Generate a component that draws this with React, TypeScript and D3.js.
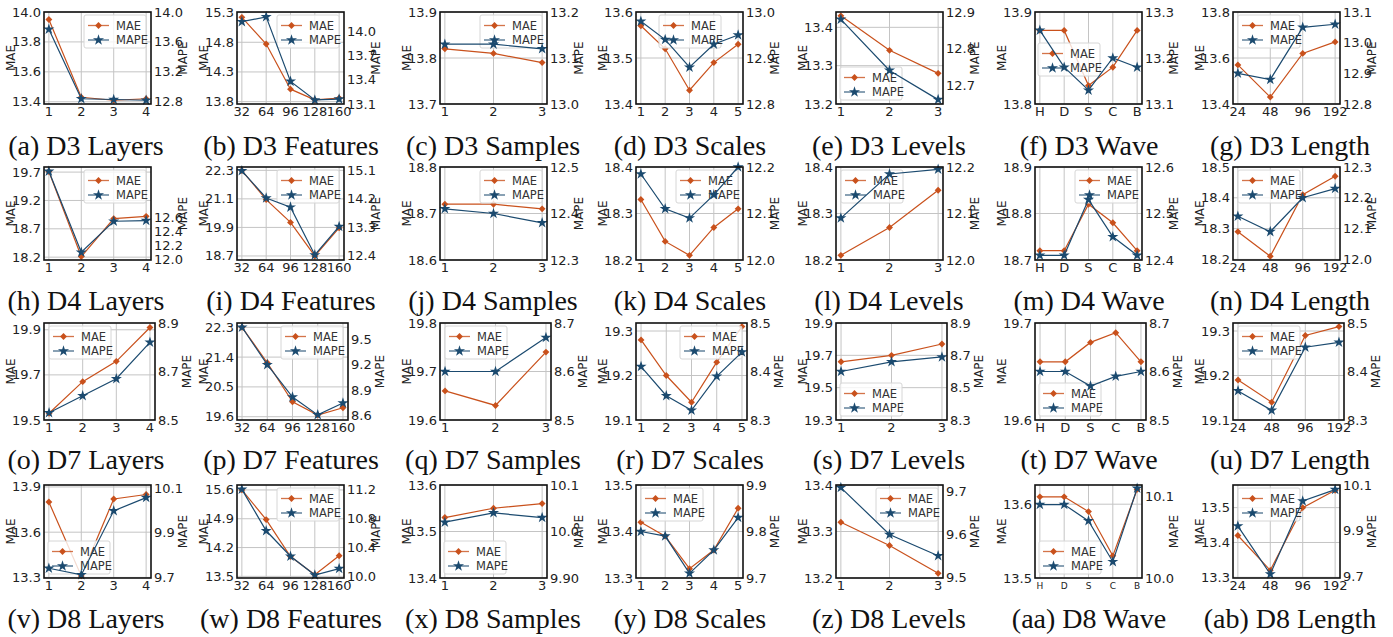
import React from 'react';
import * as d3 from 'd3';

const W = 1393;
const H = 637;
const MAE_COLOR = '#c9511c';
const MAPE_COLOR = '#1b4a6f';

const datasets = ['D3', 'D4', 'D7', 'D8'];
const experiments = ['Layers', 'Features', 'Samples', 'Scales', 'Levels', 'Wave', 'Length'];
const letters = 'abcdefghijklmnopqrstuvwxyz'.split('').concat(['aa', 'ab']);

// x categories per experiment
const xLayers = ['1', '2', '3', '4'];
const xFeatures = ['32', '64', '96', '128', '160'];
const xSamples = ['1', '2', '3'];
const xScales = ['1', '2', '3', '4', '5'];
const xLevels = ['1', '2', '3'];
const xWave = ['H', 'D', 'S', 'C', 'B'];
const xLength = ['24', '48', '96', '192'];
const xCategories = [xLayers, xFeatures, xSamples, xScales, xLevels, xWave, xLength];

// D3
const d3Mae = [
  [13.95, 13.43, 13.41, 13.42],
  [15.22, 14.77, 14.01, 13.83, 13.86],
  [13.82, 13.81, 13.79],
  [13.57, 13.52, 13.43, 13.49, 13.53],
  [13.43, 13.34, 13.28],
  [13.88, 13.88, 13.82, 13.84, 13.88],
  [13.57, 13.43, 13.62, 13.67],
];
const d3Mape = [
  [13.77, 12.84, 12.83, 12.82],
  [14.12, 14.18, 13.38, 13.15, 13.16],
  [13.13, 13.13, 13.12],
  [12.98, 12.94, 12.88, 12.93, 12.95],
  [12.88, 12.74, 12.66],
  [13.26, 13.18, 13.13, 13.2, 13.18],
  [12.9, 12.88, 13.05, 13.06],
];
const d3MaeDomain = [[13.385, 14.0], [13.76, 15.31], [13.7, 13.9], [13.4, 13.6], [13.2, 13.44], [13.8, 13.9], [13.4, 13.8]];
const d3MaeTicks = [[13.4, 13.6, 13.8, 14.0], [13.8, 14.3, 14.8, 15.3], [13.7, 13.8, 13.9], [13.4, 13.5, 13.6], [13.2, 13.3, 13.4], [13.8, 13.9], [13.4, 13.6, 13.8]];
const d3MapeDomain = [[12.77, 14.0], [13.1, 14.24], [13.0, 13.2], [12.8, 13.0], [12.648, 12.9], [13.1, 13.3], [12.8, 13.1]];
const d3MapeTicks = [[12.8, 13.2, 13.6, 14.0], [13.1, 13.4, 13.7, 14.0], [13.0, 13.1, 13.2], [12.8, 12.9, 13.0], [12.7, 12.8, 12.9], [13.1, 13.2, 13.3], [12.8, 12.9, 13.0, 13.1]];
const d3Legend = ['ur', 'ur', 'ur', 'uc', 'll', 'cl', 'ul'];

// D4
const d4Mae = [
  [19.71, 18.21, 18.88, 18.92],
  [22.29, 21.07, 20.11, 18.7, 19.88],
  [18.72, 18.72, 18.71],
  [18.33, 18.24, 18.21, 18.27, 18.31],
  [18.21, 18.27, 18.35],
  [18.72, 18.72, 18.82, 18.78, 18.72],
  [18.29, 18.21, 18.41, 18.47],
];
const d4Mape = [
  [13.25, 12.1, 12.54, 12.55],
  [15.09, 14.23, 13.94, 12.43, 13.33],
  [12.41, 12.4, 12.38],
  [12.185, 12.11, 12.09, 12.14, 12.2],
  [12.09, 12.185, 12.195],
  [12.41, 12.41, 12.53, 12.45, 12.41],
  [12.14, 12.09, 12.2, 12.23],
];
const d4MaeDomain = [[18.15, 19.79], [18.53, 22.44], [18.6, 18.8], [18.2, 18.4], [18.2, 18.4], [18.7, 18.9], [18.198, 18.5]];
const d4MaeTicks = [[18.2, 18.7, 19.2, 19.7], [18.7, 19.9, 21.1, 22.3], [18.6, 18.7, 18.8], [18.2, 18.3, 18.4], [18.2, 18.3, 18.4], [18.7, 18.8, 18.9], [18.2, 18.3, 18.4, 18.5]];
const d4MapeDomain = [[11.99, 13.31], [12.27, 15.21], [12.3, 12.5], [12.0, 12.2], [12.0, 12.2], [12.4, 12.6], [11.998, 12.3]];
const d4MapeTicks = [[12.0, 12.2, 12.4, 12.6], [12.4, 13.3, 14.2, 15.1], [12.3, 12.4, 12.5], [12.0, 12.1, 12.2], [12.0, 12.1, 12.2], [12.4, 12.5, 12.6], [12.0, 12.1, 12.2, 12.3]];
const d4Legend = ['ur', 'ur', 'ur', 'ur', 'ul', 'ur', 'ul'];

// D7
const d7Mae = [
  [19.53, 19.67, 19.76, 19.91],
  [22.3, 21.23, 20.05, 19.65, 19.87],
  [19.66, 19.63, 19.74],
  [19.28, 19.2, 19.14, 19.23, 19.31],
  [19.66, 19.7, 19.77],
  [19.66, 19.66, 19.68, 19.69, 19.66],
  [19.19, 19.14, 19.29, 19.31],
];
const d7Mape = [
  [8.53, 8.6, 8.67, 8.82],
  [9.64, 9.2, 8.82, 8.61, 8.75],
  [8.6, 8.6, 8.67],
  [8.41, 8.35, 8.32, 8.39, 8.44],
  [8.6, 8.66, 8.69],
  [8.6, 8.6, 8.57, 8.59, 8.6],
  [8.36, 8.32, 8.45, 8.46],
];
const d7MaeDomain = [[19.5, 19.93], [19.5, 22.43], [19.6, 19.8], [19.1, 19.318], [19.3, 19.9], [19.6, 19.7], [19.1, 19.318]];
const d7MaeTicks = [[19.5, 19.7, 19.9], [19.6, 20.5, 21.4, 22.3], [19.6, 19.7, 19.8], [19.1, 19.2, 19.3], [19.3, 19.5, 19.7, 19.9], [19.6, 19.7], [19.1, 19.2, 19.3]];
const d7MapeDomain = [[8.5, 8.9], [8.55, 9.69], [8.5, 8.7], [8.3, 8.5], [8.3, 8.9], [8.5, 8.7], [8.3, 8.5]];
const d7MapeTicks = [[8.5, 8.7, 8.9], [8.6, 8.9, 9.2, 9.5], [8.5, 8.6, 8.7], [8.3, 8.4, 8.5], [8.3, 8.5, 8.7, 8.9], [8.5, 8.6, 8.7], [8.3, 8.4, 8.5]];
const d7Legend = ['ul', 'ur', 'ul', 'ur', 'll', 'll', 'ul'];

// D8
const d8Mae = [
  [13.8, 13.31, 13.82, 13.85],
  [15.6, 14.88, 13.98, 13.54, 14.0],
  [13.53, 13.55, 13.56],
  [13.42, 13.39, 13.32, 13.36, 13.45],
  [13.32, 13.27, 13.21],
  [13.61, 13.61, 13.59, 13.53, 13.62],
  [13.42, 13.32, 13.5, 13.55],
];
const d8Mape = [
  [9.74, 9.71, 10.0, 10.06],
  [11.2, 10.63, 10.28, 10.02, 10.11],
  [10.02, 10.04, 10.03],
  [9.8, 9.79, 9.71, 9.76, 9.83],
  [9.71, 9.6, 9.55],
  [10.09, 10.09, 10.07, 10.02, 10.11],
  [9.92, 9.71, 10.03, 10.08],
];
const d8MaeDomain = [[13.296, 13.913], [13.46, 15.72], [13.4, 13.6], [13.3, 13.5], [13.2, 13.4], [13.5, 13.626], [13.298, 13.565]];
const d8MaeTicks = [[13.3, 13.6, 13.9], [13.5, 14.2, 14.9, 15.6], [13.4, 13.5, 13.6], [13.3, 13.4, 13.5], [13.2, 13.3, 13.4], [13.5, 13.6], [13.3, 13.4, 13.5]];
const d8MapeDomain = [[9.696, 10.117], [9.98, 11.26], [9.9, 10.1], [9.7, 9.9], [9.498, 9.716], [10.0, 10.114], [9.693, 10.1]];
const d8MapeTicks = [[9.7, 9.9, 10.1], [10.0, 10.4, 10.8, 11.2], [9.9, 10.0, 10.1], [9.7, 9.8, 9.9], [9.5, 9.6, 9.7], [10.0, 10.1], [9.7, 9.9, 10.1]];
const d8Legend = ['ll', 'ur', 'll', 'ul', 'ur', 'll', 'ul'];
const d8SamplesMapeLabels = ['9.90', '10.0', '10.1'];

const maeAll = [d3Mae, d4Mae, d7Mae, d8Mae];
const mapeAll = [d3Mape, d4Mape, d7Mape, d8Mape];
const maeDomains = [d3MaeDomain, d4MaeDomain, d7MaeDomain, d8MaeDomain];
const maeTicksAll = [d3MaeTicks, d4MaeTicks, d7MaeTicks, d8MaeTicks];
const mapeDomains = [d3MapeDomain, d4MapeDomain, d7MapeDomain, d8MapeDomain];
const mapeTicksAll = [d3MapeTicks, d4MapeTicks, d7MapeTicks, d8MapeTicks];
const legendAll = [d3Legend, d4Legend, d7Legend, d8Legend];

// layout
const colLeft = [44, 237, 440, 636, 836, 1035, 1233];
const rowTop = [12, 167, 323, 485];
const rowHeight = [92, 93, 97, 93];
const rowWidth = [107, 107, 111, 107];
const captionX = [86, 291, 493, 690, 889, 1089, 1290];
const captionY = [155, 310, 469, 628];

const SANS = 'DejaVu Sans, sans-serif';
const fmt = d3.format('.1f');
const diamond = d3.symbol().type(d3.symbolDiamond2).size(30)() as string;
const star = d3.symbol().type(d3.symbolStar).size(38)() as string;

type PanelProps = {
  r: number;
  c: number;
};

function Legend({ x, y }: { x: number; y: number }) {
  const rows = [
    { name: 'MAE', color: MAE_COLOR, path: diamond, dy: 10.5 },
    { name: 'MAPE', color: MAPE_COLOR, path: star, dy: 25 },
  ];
  return (
    <g>
      <rect x={x} y={y} width={62} height={33} rx={2} fill="#fff" fillOpacity={0.8} stroke="#d6d6d6" strokeWidth={1} />
      {rows.map((row) => (
        <g key={row.name}>
          <line x1={x + 4} x2={x + 25} y1={y + row.dy} y2={y + row.dy} stroke={row.color} strokeWidth={1.3} strokeOpacity={0.8} />
          <path d={row.path} transform={`translate(${x + 14.5},${y + row.dy})`} fill={row.color} />
          <text x={x + 32} y={y + row.dy} dominantBaseline="central" fontSize={11.5} fontFamily={SANS} fill="#333">
            {row.name}
          </text>
        </g>
      ))}
    </g>
  );
}

function Panel({ r, c }: PanelProps) {
  const xs = xCategories[c];
  const mae = maeAll[r][c];
  const mape = mapeAll[r][c];
  const left = colLeft[c];
  const top = rowTop[r];
  const w = rowWidth[r];
  const h = rowHeight[r];
  const right = left + w;
  const bottom = top + h;

  const x = d3.scalePoint<string>().domain(xs).range([left, right]).padding(0.05 * (xs.length - 1));
  const yL = d3.scaleLinear().domain(maeDomains[r][c]).range([bottom, top]);
  const yR = d3.scaleLinear().domain(mapeDomains[r][c]).range([bottom, top]);
  const maeTicks = maeTicksAll[r][c];
  const mapeTicks = mapeTicksAll[r][c];
  const mapeLabels = r === 3 && c === 2 ? d8SamplesMapeLabels : mapeTicks.map(fmt);

  const lineL = d3.line<number>().x((_, i) => x(xs[i]) as number).y((d) => yL(d));
  const lineR = d3.line<number>().x((_, i) => x(xs[i]) as number).y((d) => yR(d));

  // legend placement, like matplotlib's loc
  const lw = 62;
  const lh = 33;
  const pos = legendAll[r][c];
  let lx = right - 5 - lw;
  let ly = top + 3;
  if (pos === 'ul') lx = left + 5;
  if (pos === 'uc') lx = left + 23;
  if (pos === 'll') {
    lx = left + 4;
    ly = bottom - 4 - lh;
  }
  if (pos === 'cl') {
    lx = left + 3;
    ly = top + 31;
  }

  const xFont = r === 3 && c === 5 ? 9 : 13;
  const caption = `(${letters[r * 7 + c]}) ${datasets[r]} ${experiments[c]}`;

  return (
    <g>
      {maeTicks.map((t) => (
        <line key={'gy' + t} x1={left} x2={right} y1={yL(t)} y2={yL(t)} stroke="#c4c4c4" strokeWidth={1} />
      ))}
      {xs.map((t) => (
        <line key={'gx' + t} x1={x(t)} x2={x(t)} y1={top} y2={bottom} stroke="#c4c4c4" strokeWidth={1} />
      ))}

      <path d={lineL(mae) as string} fill="none" stroke={MAE_COLOR} strokeWidth={1.2} />
      {mae.map((v, i) => (
        <path key={'m' + i} d={diamond} transform={`translate(${x(xs[i])},${yL(v)})`} fill={MAE_COLOR} />
      ))}

      <Legend x={lx} y={ly} />

      {/* twin axis drawn above the legend */}
      <path d={lineR(mape) as string} fill="none" stroke={MAPE_COLOR} strokeWidth={1.2} />
      {mape.map((v, i) => (
        <path key={'p' + i} d={star} transform={`translate(${x(xs[i])},${yR(v)})`} fill={MAPE_COLOR} />
      ))}

      <rect x={left} y={top} width={w} height={h} fill="none" stroke="#111" strokeWidth={1.6} />

      {maeTicks.map((t) => (
        <text key={'lt' + t} x={left - 3} y={yL(t)} textAnchor="end" dominantBaseline="central" fontSize={13} fontFamily={SANS} fill="#222">
          {fmt(t)}
        </text>
      ))}
      {mapeTicks.map((t, i) => (
        <text key={'rt' + t} x={right + 3} y={yR(t)} textAnchor="start" dominantBaseline="central" fontSize={13} fontFamily={SANS} fill="#222">
          {mapeLabels[i]}
        </text>
      ))}
      {xs.map((t) => (
        <text key={'xt' + t} x={x(t)} y={bottom + (xFont === 13 ? 12 : 11)} textAnchor="middle" fontSize={xFont} fontFamily={SANS} fill="#222">
          {t}
        </text>
      ))}

      <text transform={`translate(${left - 33},${(top + bottom) / 2}) rotate(-90)`} textAnchor="middle" dominantBaseline="central" fontSize={12} fontFamily={SANS} fill="#222">
        MAE
      </text>
      <text transform={`translate(${right + 32},${(top + bottom) / 2}) rotate(-90)`} textAnchor="middle" dominantBaseline="central" fontSize={12} fontFamily={SANS} fill="#222">
        MAPE
      </text>

      <text x={captionX[c]} y={captionY[r]} textAnchor="middle" fontSize={28} fontFamily="Liberation Serif, serif" fill="#111">
        {caption}
      </text>
    </g>
  );
}

export default function App() {
  const cells: PanelProps[] = [];
  datasets.forEach((_, r) => experiments.forEach((__, c) => cells.push({ r, c })));
  return (
    <svg width={W} height={H} style={{ position: 'absolute', left: 0, top: 0, background: '#fff' }}>
      {cells.map((p) => (
        <Panel key={`${p.r}-${p.c}`} r={p.r} c={p.c} />
      ))}
    </svg>
  );
}
